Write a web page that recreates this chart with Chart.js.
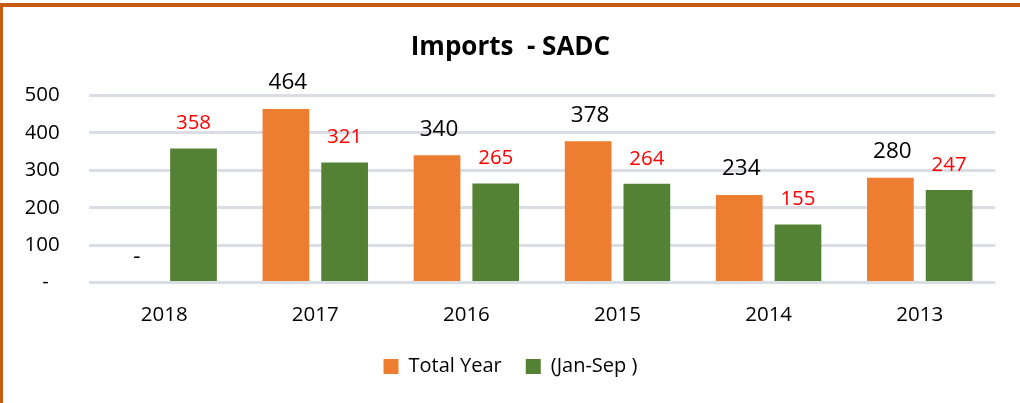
<!DOCTYPE html>
<html>
<head>
<meta charset="utf-8">
<script src="https://cdn.jsdelivr.net/npm/chart.js@4/dist/chart.umd.min.js"></script>
<style>
  html, body { margin: 0; padding: 0; background: #ffffff; }
  #wrap { position: relative; width: 1020px; height: 403px; overflow: hidden; }
  #frame { position: absolute; left: 0; top: 3px; width: 1030px; height: 420px;
           border-top: 4px solid #C55A11; border-left: 3px solid #C55A11; box-sizing: border-box; pointer-events: none; }
  canvas { position: absolute; left: 0; top: 0; }
</style>
</head>
<body>
<div id="wrap">
  <canvas id="c" width="1020" height="403"></canvas>
  <div id="frame"></div>
</div>
<script>
const categories = ['2018', '2017', '2016', '2015', '2014', '2013'];
const totalYear = [0, 464, 340, 378, 234, 280];
const janSep = [358, 321, 265, 264, 155, 247];
const yTicks = [0, 100, 200, 300, 400, 500];
const seriesNames = ['Total Year', '(Jan-Sep )'];

const FONT = "'Open Sans', 'DejaVu Sans', sans-serif";
const fmt = v => (v === 0 ? '-' : String(v));

const labelPlugin = {
  id: 'barLabels',
  afterDatasetsDraw(chart) {
    const ctx = chart.ctx;
    const styles = [
      { color: '#000000', size: 22.5, offset: 26, dx: 2 },
      { color: '#FF0000', size: 20.5, offset: 25, dx: 0 }
    ];
    chart.data.datasets.forEach((ds, di) => {
      const meta = chart.getDatasetMeta(di);
      const st = styles[di];
      meta.data.forEach((el, i) => {
        ctx.save();
        ctx.font = st.size + 'px ' + FONT;
        ctx.fillStyle = st.color;
        ctx.textAlign = 'center';
        ctx.textBaseline = 'middle';
        ctx.fillText(fmt(ds.data[i]), el.x + st.dx, el.y - st.offset);
        ctx.restore();
      });
    });
  }
};

new Chart(document.getElementById('c'), {
  type: 'bar',
  data: {
    labels: categories,
    datasets: [
      { label: seriesNames[0], data: totalYear, backgroundColor: '#ED7D31',
        categoryPercentage: 0.777, barPercentage: 0.7956 },
      { label: seriesNames[1], data: janSep, backgroundColor: '#548235',
        categoryPercentage: 0.777, barPercentage: 0.7956 }
    ]
  },
  options: {
    responsive: false,
    animation: false,
    devicePixelRatio: 1,
    layout: { padding: { left: 25.6, right: 24.7, top: 0, bottom: 16.5 } },
    plugins: {
      title: {
        display: true,
        text: 'Imports  - SADC',
        color: '#000000',
        font: { family: FONT, size: 26, weight: 'bold', lineHeight: 1.2 },
        padding: { top: 32, bottom: 32.3 }
      },
      legend: {
        display: true,
        position: 'bottom',
        labels: {
          color: '#000000',
          font: { family: FONT, size: 20 },
          boxWidth: 15,
          boxHeight: 15,
          padding: 24,
          generateLabels(chart) {
            return chart.data.datasets.map((ds, i) => ({
              text: ds.label, fillStyle: ds.backgroundColor, strokeStyle: ds.backgroundColor,
              lineWidth: 0, hidden: false, datasetIndex: i, fontColor: '#000000'
            }));
          }
        }
      },
      tooltip: { enabled: false }
    },
    scales: {
      x: {
        grid: { display: false, drawTicks: false },
        border: { display: false },
        ticks: { color: '#000000', font: { family: FONT, size: 20.5 }, padding: 20, maxRotation: 0 },
        afterFit(scale) { scale.height = 50; }
      },
      y: {
        min: 0, max: 500,
        afterBuildTicks(scale) { scale.ticks = yTicks.map(v => ({ value: v })); },
        grid: { color: '#D9DEE4', lineWidth: 3, drawTicks: false },
        border: { display: false },
        ticks: {
          color: '#000000', font: { family: FONT, size: 20.5 }, padding: 29,
          callback: v => (v === 0 ? '-  ' : String(v))
        },
        afterFit(scale) { scale.width = 63; }
      }
    }
  },
  plugins: [labelPlugin]
});
</script>
</body>
</html>
